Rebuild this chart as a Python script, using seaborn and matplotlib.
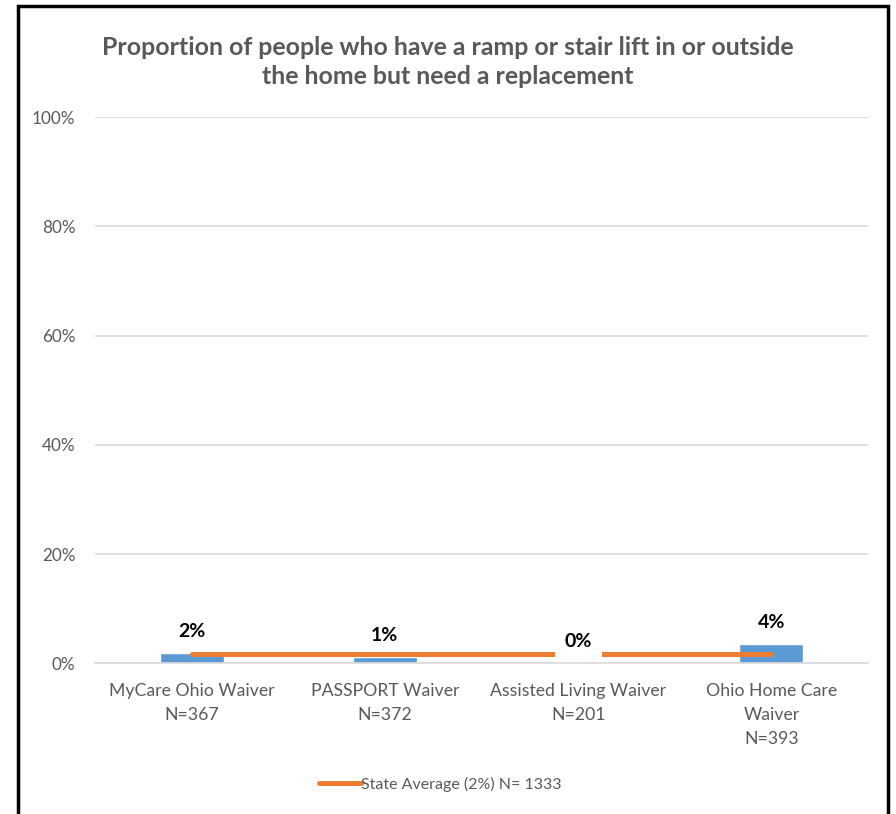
import matplotlib
matplotlib.use("Agg")
import matplotlib.pyplot as plt
import seaborn as sns
import pandas as pd
from matplotlib.patches import Rectangle
from matplotlib.lines import Line2D

# ---- data ----
categories = ["MyCare Ohio Waiver\nN=367", "PASSPORT Waiver\nN=372",
              "Assisted Living Waiver\nN=201", "Ohio Home Care\nWaiver\nN=393"]
values = [1.9, 1.1, 0.0, 3.5]
value_labels = ["2%", "1%", "0%", "4%"]
state_avg = [1.65, 1.65, 1.65, 1.65]
legend_label = "State Average (2%) N= 1333"
title = "Proportion of people who have a ramp or stair lift in or outside\nthe home but need a replacement"
yticks = [0, 20, 40, 60, 80, 100]
ytick_labels = ["0%", "20%", "40%", "60%", "80%", "100%"]

df = pd.DataFrame({"category": categories, "value": values})
df_avg = pd.DataFrame({"category": categories, "avg": state_avg})

sns.set_theme(style="white")
plt.rcParams["font.family"] = ["Lato", "DejaVu Sans"]

W, H = 896, 814
fig = plt.figure(figsize=(W / 100, H / 100), dpi=100)
ax = fig.add_axes([95 / W, 1 - 663.3 / H, (868 - 95) / W, (663.3 - 117.3) / H])

grey = "#595959"
orange = "#ED7D31"
sns.barplot(data=df, x="category", y="value", color="#5B9BD5", width=0.33,
            saturation=1, ax=ax, zorder=2, errorbar=None)
sns.lineplot(data=df_avg, x="category", y="avg", color=orange, linewidth=3.6,
             ax=ax, zorder=3, sort=False, legend=False)
for l in ax.lines:
    l.set_solid_capstyle("round")

for i, (v, lab) in enumerate(zip(values, value_labels)):
    kw = {}
    if v < 0.5:
        kw["bbox"] = dict(boxstyle="square,pad=0.5", fc="white", ec="none")
    ax.annotate(lab, xy=(i, v), xytext=(0, 11.5), textcoords="offset points",
                ha="center", va="baseline", fontsize=14, fontweight="bold",
                color="black", zorder=5, **kw)

ax.set_ylim(0, 100)
ax.set_xlim(-0.5, 3.5)
ax.set_yticks(yticks)
ax.set_yticklabels(ytick_labels)
ax.yaxis.grid(True, color="#D9D9D9", linewidth=1.2)
ax.set_axisbelow(True)
for s in ["top", "right", "left"]:
    ax.spines[s].set_visible(False)
ax.spines["bottom"].set_color("#D9D9D9")
ax.spines["bottom"].set_linewidth(1.2)
ax.tick_params(axis="y", length=0, pad=14, labelsize=12.3, labelcolor=grey)
ax.tick_params(axis="x", length=0, pad=14, labelsize=12.7, labelcolor=grey)
for t in ax.get_xticklabels():
    t.set_linespacing(1.62)
ax.set_xlabel("")
ax.set_ylabel("")

fig.text(0.5, 1 - 83.5 / H, title, ha="center", va="baseline", fontsize=17.9,
         fontweight="bold", color=grey, linespacing=1.3)

handle = Line2D([], [], color=orange, linewidth=3.6, solid_capstyle="round")
fig.legend(handles=[handle], labels=[legend_label], loc="center",
           bbox_to_anchor=(440 / W, 1 - 784 / H), frameon=False,
           fontsize=11.5, handlelength=2.6, handletextpad=0.0,
           labelcolor=grey)

fig.patches.append(Rectangle((18 / W, -0.05), (888 - 18) / W, 1.05 - 6 / H,
                             transform=fig.transFigure, fill=False,
                             edgecolor="black", linewidth=2.5))

fig.savefig("out.png", dpi=100)
